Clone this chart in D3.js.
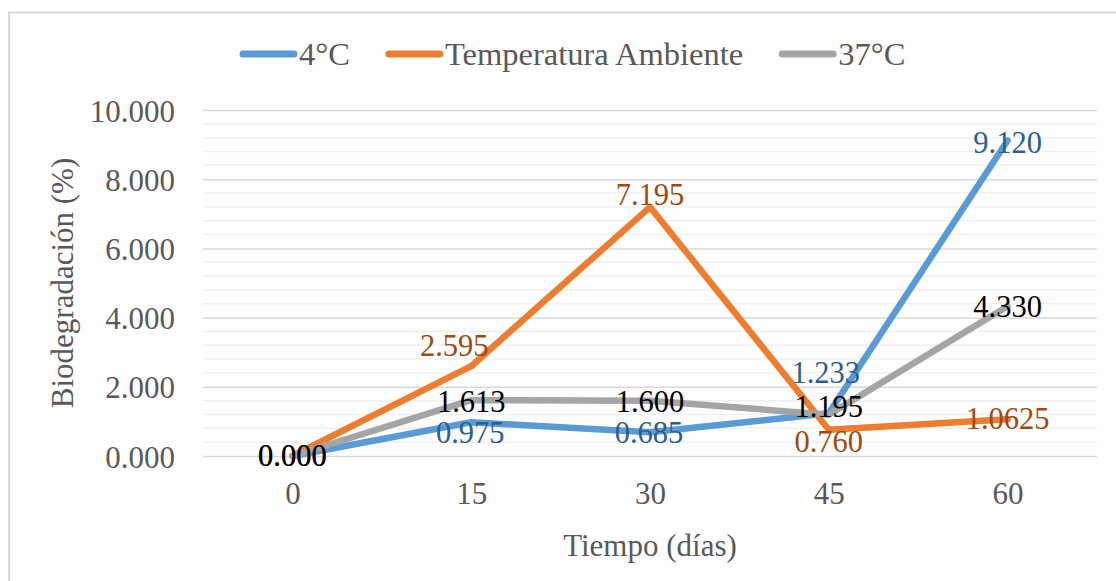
<!DOCTYPE html>
<html>
<head>
<meta charset="utf-8">
<script src="https://cdn.jsdelivr.net/npm/d3@7"></script>
<style>
  html, body { margin: 0; padding: 0; background: #fff; }
  svg { display: block; }
  text { font-family: "Liberation Serif", "Times New Roman", serif; }
</style>
</head>
<body>
<svg id="chart" width="1116" height="581"></svg>
<script>
// Sampling days (x categories)
const dias = ["0", "15", "30", "45", "60"];

// Biodegradation (%) per storage temperature
const serie4C  = [0.000, 0.975, 0.685, 1.233, 9.120];
const serieAmb = [0.000, 2.595, 7.195, 0.760, 1.0625];
const serie37  = [0.000, 1.613, 1.600, 1.195, 4.330];

const seriesNames = ["4°C", "Temperatura Ambiente", "37°C"];

// Value axis ticks
const yTicks = [0, 2, 4, 6, 8, 10];
const yMinorStep = 0.4;

const xTitle = "Tiempo (días)";
const yTitle = "Biodegradación (%)";

// ---- styling / layout ----
const lineColors  = ["#5B9BD5", "#ED7D31", "#A5A5A5"];
const labelColors = ["#2E5E8C", "#9E4A12", "#000000"];
// label offset from its point: [dx, baseline dy]
const labelOffsets = [
  [[0, 10], [-1, 21], [-1, 11], [-3, -30], [0, 13]],
  [[0, 10], [-17, -10], [0, -2], [0, 22], [0, 10]],
  [[0, 10], [0, 12], [0, 11], [0, 2], [0, 11]]
];

const svg = d3.select("#chart");
const W = 1116, H = 581;
const plot = { left: 203, right: 1097, top: 110, bottom: 456 };

// chart area frame
svg.append("rect")
  .attr("x", 9).attr("y", 12.5)
  .attr("width", W + 50).attr("height", H + 50)
  .attr("fill", "#fff")
  .attr("stroke", "#D9D9D9").attr("stroke-width", 2);

const x = d3.scalePoint().domain(dias).range([plot.left, plot.right]).padding(0.5);
const y = d3.scaleLinear().domain([0, 10]).range([plot.bottom, plot.top]);

// minor gridlines
const minorVals = d3.range(0, 10 + 1e-9, yMinorStep).filter(v => Math.abs(v / 2 - Math.round(v / 2)) > 1e-6);
svg.append("g").selectAll("line").data(minorVals).join("line")
  .attr("x1", plot.left).attr("x2", plot.right)
  .attr("y1", d => y(d)).attr("y2", d => y(d))
  .attr("stroke", "#F0F0F0").attr("stroke-width", 1.5);

// major gridlines and tick labels via the axis generator
const yAxis = d3.axisLeft(y).tickValues(yTicks).tickFormat(d3.format(".3f"))
  .tickSize(-(plot.right - plot.left)).tickPadding(28);
const gy = svg.append("g").attr("transform", `translate(${plot.left},0)`).call(yAxis);
gy.select(".domain").remove();
gy.selectAll(".tick line").attr("stroke", "#D9D9D9").attr("stroke-width", 1.5);
gy.selectAll(".tick text")
  .attr("fill", "#595959")
  .style("font-family", '"Liberation Serif", serif')
  .style("font-size", "31px")
  .attr("dy", "0.36em");

// category axis labels
const xAxis = d3.axisBottom(x).tickSize(0).tickPadding(26);
const gx = svg.append("g").attr("transform", `translate(0,${plot.bottom})`).call(xAxis);
gx.select(".domain").remove();
gx.selectAll(".tick text")
  .attr("fill", "#595959")
  .style("font-family", '"Liberation Serif", serif')
  .style("font-size", "31px")
  .attr("dy", "0.71em");

// axis titles
svg.append("text")
  .attr("x", (plot.left + plot.right) / 2).attr("y", 556)
  .attr("text-anchor", "middle")
  .attr("fill", "#595959").style("font-size", "31px")
  .text(xTitle);

svg.append("text")
  .attr("transform", `translate(73,${(plot.top + plot.bottom) / 2}) rotate(-90)`)
  .attr("text-anchor", "middle")
  .attr("fill", "#595959").style("font-size", "31px")
  .text(yTitle);

// lines
const allSeries = [serie4C, serieAmb, serie37];
const line = d3.line().x((d, i) => x(dias[i])).y(d => y(d));
svg.append("g").selectAll("path").data(allSeries).join("path")
  .attr("d", d => line(d))
  .attr("fill", "none")
  .attr("stroke", (d, i) => lineColors[i])
  .attr("stroke-width", 6.5)
  .attr("stroke-linejoin", "round")
  .attr("stroke-linecap", "round");

// data labels
const fmt = v => {
  const s = d3.format(".4~f")(v);
  const dec = (s.split(".")[1] || "").length;
  return dec > 3 ? s : d3.format(".3f")(v);
};
allSeries.forEach((vals, si) => {
  svg.append("g").selectAll("text").data(vals).join("text")
    .attr("x", (d, i) => x(dias[i]) + labelOffsets[si][i][0])
    .attr("y", (d, i) => y(d) + labelOffsets[si][i][1])
    .attr("text-anchor", "middle")
    .attr("fill", labelColors[si])
    .style("font-size", "30.5px")
    .text(d => fmt(d));
});

// legend
const legend = svg.append("g");
let lx = 240;
const ly = 54;
seriesNames.forEach((name, i) => {
  legend.append("line")
    .attr("x1", lx + 3).attr("x2", lx + 54)
    .attr("y1", ly).attr("y2", ly)
    .attr("stroke", lineColors[i]).attr("stroke-width", 7)
    .attr("stroke-linecap", "round");
  const t = legend.append("text")
    .attr("x", lx + 59).attr("y", ly + 11)
    .attr("fill", "#595959").style("font-size", "32.5px")
    .text(name);
  lx += 59 + t.node().getComputedTextLength() + 36;
});
</script>
</body>
</html>
